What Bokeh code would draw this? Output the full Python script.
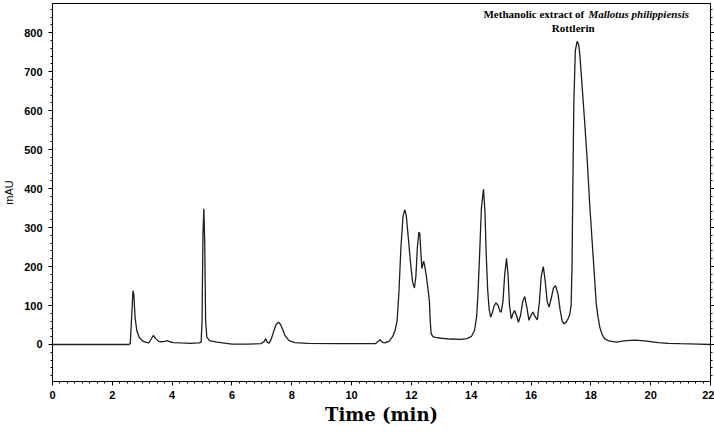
from bokeh.plotting import figure
from bokeh.models import Label, LinearAxis, FixedTicker, Range1d, CustomJSTickFormatter
from bokeh.embed import file_html
from bokeh.resources import INLINE

# Chromatogram: retention time (min) and absorbance (mAU)
time_min = [0.0, 2.55, 2.60, 2.64, 2.69, 2.72, 2.76, 2.82, 2.90, 3.00, 3.10, 3.22, 3.30, 3.37, 3.45,
            3.55, 3.65, 3.75, 3.84, 3.92, 4.05, 4.30, 4.60, 4.90, 4.97, 5.00, 5.03, 5.06, 5.09, 5.12,
            5.16, 5.25, 5.50, 6.00, 6.50, 6.97, 7.08, 7.13, 7.18, 7.24, 7.32, 7.40, 7.48, 7.56, 7.62,
            7.69, 7.78, 7.91, 8.10, 8.53, 9.50, 10.80, 10.88, 10.95, 11.02, 11.10, 11.25, 11.37, 11.45,
            11.52, 11.58, 11.65, 11.72, 11.78, 11.83, 11.90, 11.97, 12.04, 12.10, 12.15, 12.20, 12.25,
            12.28, 12.32, 12.35, 12.38, 12.41, 12.45, 12.50, 12.55, 12.60, 12.63, 12.66, 12.72, 12.80,
            13.00, 13.30, 13.66, 13.85, 14.00, 14.11, 14.18, 14.22, 14.28, 14.34, 14.41, 14.46, 14.50,
            14.55, 14.60, 14.65, 14.70, 14.77, 14.83, 14.90, 14.96, 15.00, 15.06, 15.12, 15.18, 15.23,
            15.28, 15.34, 15.40, 15.45, 15.51, 15.58, 15.65, 15.72, 15.79, 15.86, 15.93, 16.00, 16.06,
            16.13, 16.21, 16.28, 16.34, 16.41, 16.47, 16.54, 16.60, 16.68, 16.75, 16.82, 16.90, 16.97,
            17.04, 17.10, 17.18, 17.25, 17.30, 17.34, 17.37, 17.40, 17.43, 17.48, 17.54, 17.59, 17.63,
            17.70, 17.79, 17.88, 17.96, 18.07, 18.18, 18.24, 18.30, 18.38, 18.46, 18.60, 18.85, 19.10,
            19.47, 19.80, 20.25, 20.58, 21.00, 21.59, 22.00]
absorbance_mau = [0, 0, 2, 60, 138, 128, 70, 35, 18, 10, 6, 4, 14, 23, 15,
                  8, 7, 8, 10, 7, 5, 4, 3, 4, 6, 60, 280, 348, 260, 60,
                  19, 10, 6, 1, 1, 2, 8, 15, 6, 3, 15, 35, 52, 57, 52,
                  40, 22, 10, 5, 3, 2, 2, 8, 12, 6, 4, 8, 20, 35,
                  60, 130, 250, 330, 346, 330, 270, 210, 160, 145, 175, 250, 288,
                  285, 230, 195, 205, 214, 200, 175, 145, 113, 60, 28, 20, 18,
                  16, 14, 13, 15, 20, 36, 70, 121, 230, 350, 399, 340, 233,
                  140, 90, 70, 80, 100, 107, 100, 85, 83, 110, 180, 221, 180,
                  100, 66, 80, 87, 75, 57, 75, 110, 123, 95, 62, 75, 83,
                  72, 63, 110, 175, 200, 165, 110, 96, 120, 145, 151, 130, 90,
                  60, 53, 58, 68, 79, 100, 200, 420, 617, 754, 778, 770, 745,
                  670, 574, 470, 361, 233, 105, 70, 44, 25, 15, 9, 6, 9,
                  11, 9, 5, 3, 2, 1, 0]

x_ticks = [0, 2, 4, 6, 8, 10, 12, 14, 16, 18, 20, 22]
x_minor_ticks = [i * 0.25 for i in range(0, 89)]
y_ticks = [0, 100, 200, 300, 400, 500, 600, 700, 800]
y_minor_ticks = [i * 20 for i in range(-5, 44)]

title_plain = "Methanolic extract of"
title_italic = "Mallotus philippiensis"
peak_name = "Rottlerin"

p = figure(width=714, height=433, output_backend="svg", toolbar_location=None,
           x_range=Range1d(0, 22), y_range=Range1d(-95, 875),
           min_border_left=52, min_border_right=0, min_border_top=3, min_border_bottom=52,
           background_fill_color="white", border_fill_color="white")
p.outline_line_color = "black"
p.outline_line_width = 1
p.xgrid.visible = False
p.ygrid.visible = False

p.line(time_min, absorbance_mau, line_color="#1e1e1e", line_width=1.3)

tick_font = "Liberation Sans"
for ax in (p.xaxis[0], p.yaxis[0]):
    ax.major_label_text_font = tick_font
    ax.major_label_text_font_style = "bold"
    ax.major_label_text_font_size = "11px"
    ax.major_label_text_color = "black"
    ax.axis_line_color = "black"
    ax.major_tick_line_color = "black"
    ax.minor_tick_line_color = "black"
    ax.major_tick_out = 4
    ax.major_tick_in = 0
    ax.minor_tick_out = 2
    ax.minor_tick_in = 0

p.xaxis[0].ticker = FixedTicker(ticks=x_ticks, minor_ticks=x_minor_ticks)
p.yaxis[0].ticker = FixedTicker(ticks=y_ticks, minor_ticks=y_minor_ticks)
p.xaxis[0].major_label_standoff = 5
p.yaxis[0].major_label_standoff = 6

p.xaxis[0].axis_label = "Time (min)"
p.xaxis[0].axis_label_text_font = "DejaVu Serif"
p.xaxis[0].axis_label_text_font_style = "bold"
p.xaxis[0].axis_label_text_font_size = "18px"
p.xaxis[0].axis_label_text_color = "black"
p.xaxis[0].axis_label_standoff = 2

p.yaxis[0].axis_label = "mAU"
p.yaxis[0].axis_label_text_font = "Liberation Sans"
p.yaxis[0].axis_label_text_font_style = "normal"
p.yaxis[0].axis_label_text_font_size = "11px"
p.yaxis[0].axis_label_text_color = "black"
p.yaxis[0].axis_label_standoff = 6

right_axis = LinearAxis(ticker=FixedTicker(ticks=y_ticks, minor_ticks=y_minor_ticks),
                        formatter=CustomJSTickFormatter(code="return ''"),
                        major_label_text_font_size="0px",
                        axis_line_color="black",
                        major_tick_out=4, major_tick_in=0, minor_tick_out=2, minor_tick_in=0,
                        major_label_standoff=0)
p.add_layout(right_axis, "right")

lab1 = Label(x=17.78, y=849, text=title_plain,
             text_font="Liberation Serif", text_font_style="bold", text_font_size="11px",
             text_align="right", text_baseline="middle", text_color="black")
lab2 = Label(x=17.92, y=849, text=title_italic,
             text_font="Liberation Serif", text_font_style="bold italic", text_font_size="11px",
             text_align="left", text_baseline="middle", text_color="black")
lab3 = Label(x=17.41, y=813, text=peak_name,
             text_font="Liberation Serif", text_font_style="bold", text_font_size="11px",
             text_align="center", text_baseline="middle", text_color="black")
for lab in (lab1, lab2, lab3):
    p.add_layout(lab)

open("out.html", "w").write(file_html(p, INLINE))
